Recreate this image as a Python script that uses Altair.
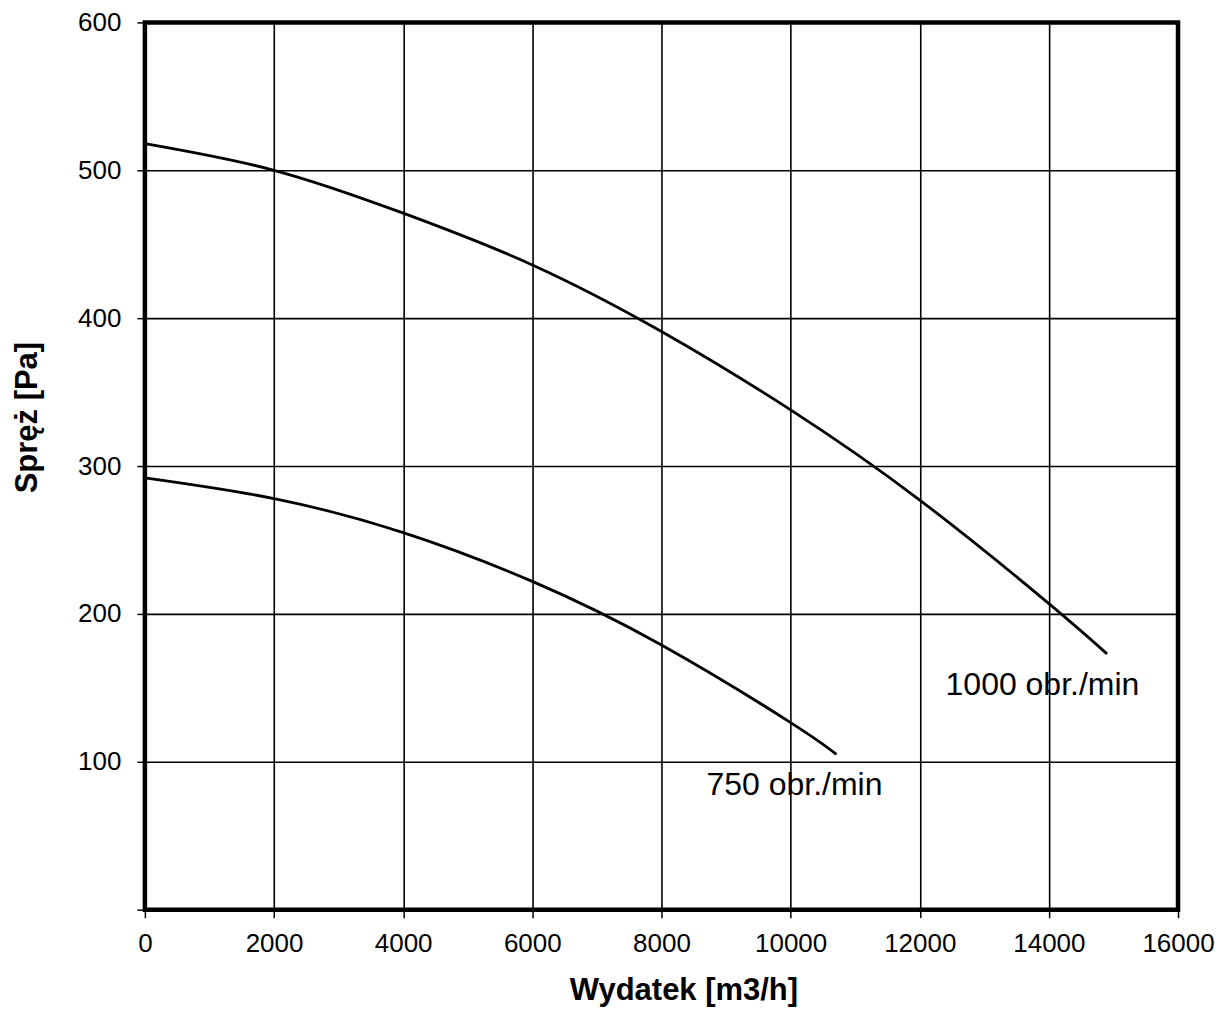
import altair as alt
import pandas as pd

# 1000 obr./min curve
x_1000 = [0, 2000, 4000, 6000, 8000, 10000, 12000, 14000, 14900]
y_1000 = [518, 500, 471, 436, 391, 338, 277, 207, 173]

# 750 obr./min curve
x_750 = [0, 2000, 4000, 6000, 8000, 10000, 10710]
y_750 = [292, 278, 255, 222, 179, 126.5, 105]

label_text = ["1000 obr./min", "750 obr./min"]
label_x = [13900, 10060]
label_y = [152, 84]

x_ticks = [0, 2000, 4000, 6000, 8000, 10000, 12000, 14000, 16000]
y_ticks = [0, 100, 200, 300, 400, 500, 600]

rows = []
for xv, yv in zip(x_1000, y_1000):
    rows.append({"x": xv, "y": yv, "s": "1000"})
for xv, yv in zip(x_750, y_750):
    rows.append({"x": xv, "y": yv, "s": "750"})
df = pd.DataFrame(rows)
lab = pd.DataFrame({"t": label_text, "x": label_x, "y": label_y})

FONT = "Liberation Sans"

xenc = alt.X("x:Q", scale=alt.Scale(domain=[0, 16000], nice=False),
             axis=alt.Axis(values=x_ticks, title="Wydatek [m3/h]", grid=True, format="d",
                           gridColor="black", gridWidth=1.6, gridOpacity=1,
                           domain=False, tickColor="black", tickSize=8, tickWidth=1.5,
                           labelFontSize=26, labelFont=FONT, labelColor="black",
                           labelPadding=13, labelFlush=False,
                           titleFontSize=31, titleFont=FONT, titleFontWeight="bold",
                           titleColor="black", titleX=539, titleY=90,
                           titleBaseline="alphabetic"))
yenc = alt.Y("y:Q", scale=alt.Scale(domain=[0, 600], nice=False),
             axis=alt.Axis(values=y_ticks, title="Spręż [Pa]", grid=True, format="d",
                           gridColor="black", gridWidth=1.6, gridOpacity=1,
                           domain=False, tickColor="black", tickSize=8, tickWidth=1.5,
                           labelFontSize=26, labelFont=FONT, labelColor="black",
                           labelPadding=16, labelFlush=False,
                           labelExpr="datum.value == 0 ? '' : datum.label",
                           titleFontSize=31, titleFont=FONT, titleFontWeight="bold",
                           titleColor="black", titleX=-117, titleY=395,
                           titleBaseline="middle", titleAngle=-90))

lines = alt.Chart(df).mark_line(color="black", strokeWidth=2.8, interpolate="natural").encode(
    x=xenc, y=yenc, detail="s:N")

texts = alt.Chart(lab).mark_text(font=FONT, fontSize=32, color="black",
                                 align="center", baseline="middle").encode(
    x="x:Q", y="y:Q", text="t:N")

chart = alt.layer(lines, texts).properties(
    width=1034, height=888,
    autosize=alt.AutoSizeParams(type="none"),
    padding={"left": 137, "top": 14, "right": 40, "bottom": 100},
).configure_view(stroke="black", strokeWidth=4.5)

chart.save("out.html", embed_options={"renderer": "svg", "actions": False})
